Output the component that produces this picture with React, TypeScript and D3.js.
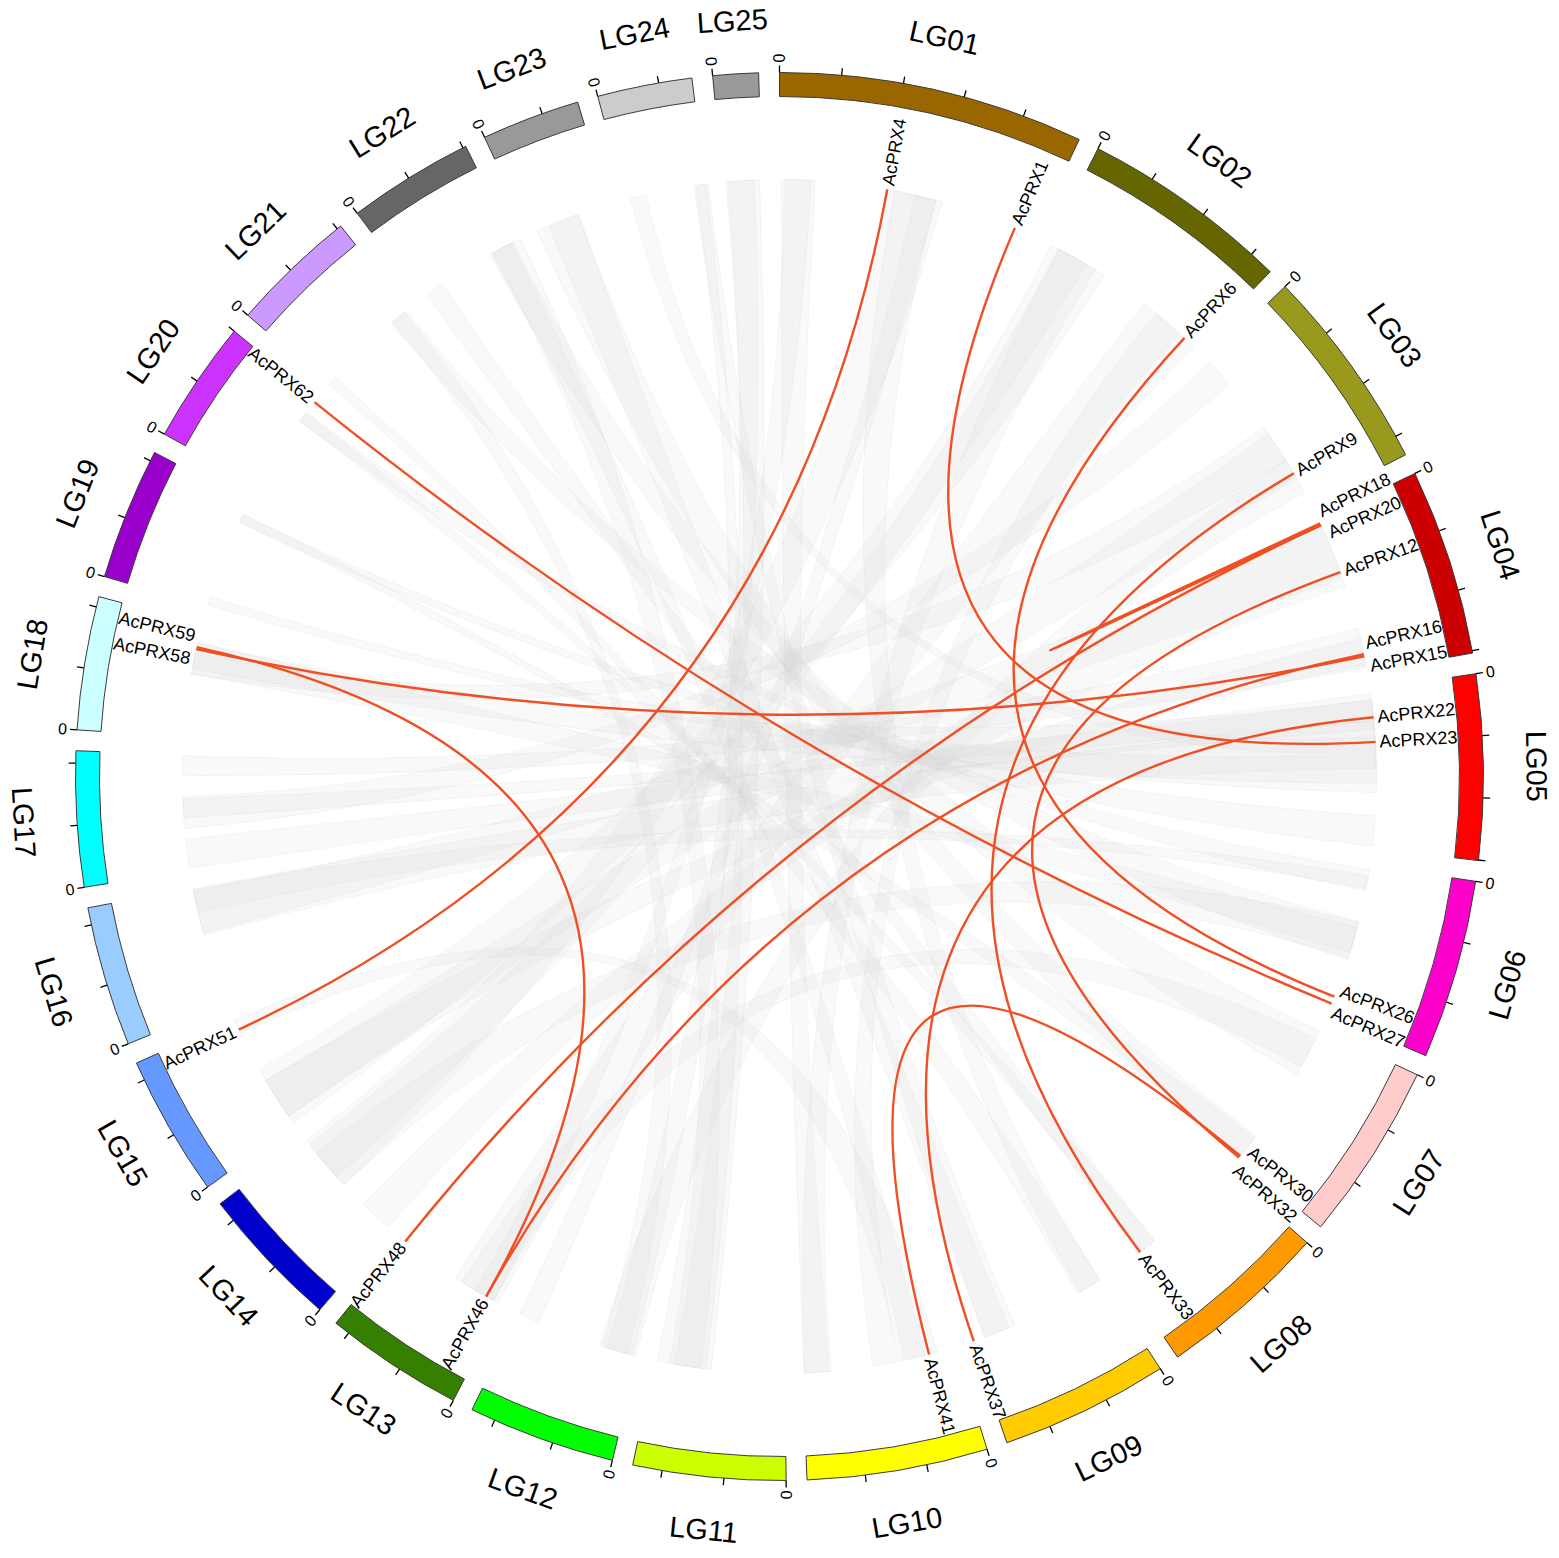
import React from 'react';
import * as d3 from 'd3';

// ---------- data ----------
const chromNames = ['LG01','LG02','LG03','LG04','LG05','LG06','LG07','LG08','LG09','LG10','LG11','LG12','LG13','LG14','LG15','LG16','LG17','LG18','LG19','LG20','LG21','LG22','LG23','LG24','LG25'];
const chromLengths = [24.85, 17.06, 16.67, 15.19, 15.05, 14.6, 14.5, 13.9, 13.7, 14.7, 12.4, 12.0, 11.3, 11.7, 11.5, 11.4, 11.0, 10.85, 10.75, 10.0, 10.35, 10.25, 8.0, 7.7, 3.7];
const chromColors = ['#996600','#666600','#99991e','#cc0000','#ff0000','#ff00cc','#ffcccc','#ff9900','#ffcc00','#ffff00','#ccff00','#00ff00','#358000','#0000cc','#6699ff','#99ccff','#00ffff','#ccffff','#9900cc','#cc33ff','#cc99ff','#666666','#999999','#cccccc','#999999'];
const tickStep = 5;

const geneNames = ['AcPRX4','AcPRX1','AcPRX6','AcPRX9','AcPRX18','AcPRX20','AcPRX12','AcPRX16','AcPRX15','AcPRX22','AcPRX23','AcPRX26','AcPRX27','AcPRX30','AcPRX32','AcPRX33','AcPRX37','AcPRX41','AcPRX46','AcPRX48','AcPRX51','AcPRX58','AcPRX59','AcPRX62'];
const geneChrom = [1,1,2,3,4,4,4,4,4,5,5,6,6,7,7,8,9,10,13,13,15,18,18,20];
const genePos = [10.26,22.9,15.6,13.4,0.4,0.6,5.4,13.5,13.7,2.66,5.0,12.9,13.6,14.2,14.4,11.2,13.56,2.6,1.8,11.07,10.45,8.4,8.6,9.6];

const redLinks: [string, string][] = [
  ['AcPRX4','AcPRX51'],
  ['AcPRX1','AcPRX23'],
  ['AcPRX6','AcPRX26'],
  ['AcPRX9','AcPRX33'],
  ['AcPRX18','AcPRX20'],
  ['AcPRX20','AcPRX48'],
  ['AcPRX12','AcPRX32'],
  ['AcPRX15','AcPRX58'],
  ['AcPRX59','AcPRX46'],
  ['AcPRX16','AcPRX46'],
  ['AcPRX22','AcPRX37'],
  ['AcPRX30','AcPRX41'],
  ['AcPRX62','AcPRX27'],
];

// grey synteny blocks: [chrA, startA, endA, chrB, startB, endB] (Mb)
const greyLinks: number[][] = [
  [25,0.3,3.5,11,7.0,10.5],
  [1,0.2,3.4,10,12.2,14.6],
  [1,10.6,15.6,14,6.0,11.5],
  [24,0.5,2.0,5,4.5,6.0],
  [24,6.6,8.0,9,9.4,12.4],
  [2,0.2,6.0,15,0.2,6.2],
  [2,10.6,16.8,13,0.5,5.2],
  [3,0.2,3.0,17,4.0,7.0],
  [3,8.2,12.0,18,6.0,8.0],
  [4,0.6,6.8,14,0.2,3.4],
  [4,11.0,14.8,17,9.0,10.9],
  [5,0.4,3.8,17,0.2,3.0],
  [5,6.2,9.8,19,0.2,1.0],
  [5,12.0,14.9,19,8.6,9.4],
  [6,0.4,2.4,20,7.3,8.4],
  [6,5.4,9.2,21,8.3,10.2],
  [7,0.2,4.8,22,7.7,10.2],
  [7,11.8,14.4,23,0.8,5.0],
  [8,9.4,11.4,22,0.6,2.4],
  [9,0.2,2.7,21,0.1,1.0],
  [10,1.8,5.4,15,10.0,11.4],
  [10,5.6,8.0,2,12.0,15.0],
  [12,0.2,3.8,3,12.0,15.5],
  [12,9.9,11.9,1,13.0,15.0],
  [16,6.8,11.3,5,3.0,7.5],
  [18,6.0,9.0,6,6.0,8.5],
  [22,8.0,10.0,10,3.0,5.0],
  [23,2.0,5.0,9,10.0,12.5],
  [14,7.0,11.0,2,1.0,4.0],
  [15,1.0,5.0,4,12.0,14.5],
  [11,7.5,12.2,24,6.8,7.8],
  [13,1.0,4.5,7,1.0,4.0],
  [16,9.0,11.2,6,1.0,2.2],
  [17,5.0,6.8,5,1.0,3.0],
  [19,8.6,9.4,7,12.0,14.0],
  [20,7.3,8.3,8,9.5,11.0],
  [21,8.5,10.0,12,1.0,3.5],
  [22,8.0,11.0,11,8.0,11.0],
  [25,0.5,3.0,12,0.5,3.0],
  [1,0.5,3.0,13,1.0,3.0],
  [1,11.0,15.0,9,0.3,2.5],
  [2,1.0,5.0,10,12.0,14.5],
  [3,9.0,14.0,15,1.0,5.0],
  [4,1.0,6.0,16,7.0,11.0],
  [5,1.0,9.0,18,6.5,9.0],
  [6,5.5,9.0,14,6.0,10.0],
];

// ---------- layout ----------
const W = 1559, H = 1558;
const cx = 779.5, cy = 776.5;
const rIn = 680, rOut = 704, rLink = 597;
const gap = 1.7 * Math.PI / 180;
const total = d3.sum(chromLengths);
const k = (2 * Math.PI - chromLengths.length * gap) / total;
const chromStart: number[] = [];
{
  let a = 0;
  chromLengths.forEach((l) => { chromStart.push(a); a += l * k + gap; });
}
const scales = chromLengths.map((l, i) =>
  d3.scaleLinear().domain([0, l]).range([chromStart[i], chromStart[i] + l * k]));
const angleOf = (chr1: number, pos: number) => scales[chr1 - 1](pos);
const pt = (a: number, r: number): [number, number] => [r * Math.sin(a), -r * Math.cos(a)];
const toDeg = (a: number) => ((a * 180 / Math.PI) % 360 + 360) % 360;

function radialText(a: number, r: number) {
  const deg = toDeg(a);
  const [x, y] = pt(a, r);
  if (deg < 180) return { x, y, rot: deg - 90, anchor: 'start' };
  return { x, y, rot: deg + 90, anchor: 'end' };
}
function tangentText(a: number, r: number) {
  const deg = toDeg(a);
  const [x, y] = pt(a, r);
  const rot = deg > 90 && deg < 270 ? deg + 180 : deg;
  return { x, y, rot };
}

const geneAngles = geneNames.map((_, i) => angleOf(geneChrom[i], genePos[i]));
const geneIndex = new Map(geneNames.map((g, i) => [g, i]));
const labelAngles = geneAngles.slice();
{
  const order = d3.range(geneNames.length).sort((a, b) => geneAngles[a] - geneAngles[b]);
  const minSep = 2.2 * Math.PI / 180;
  for (let it = 0; it < 100; it++) {
    for (let j = 1; j < order.length; j++) {
      const a = order[j - 1], b = order[j];
      const d = labelAngles[b] - labelAngles[a];
      if (d < minSep) { const s = (minSep - d) / 2; labelAngles[a] -= s; labelAngles[b] += s; }
    }
  }
}

const arcGen = d3.arc<any>();
const ribbonGen = (d3.ribbon() as any).radius(rLink);

export default function App() {
  const font = "'Liberation Sans', Arial, Helvetica, sans-serif";
  return (
    <svg width={W} height={H} style={{ position: 'absolute', left: 0, top: 0, background: '#fff' }} fontFamily={font}>
      <rect width={W} height={H} fill="#ffffff" />
      <g transform={`translate(${cx},${cy})`}>
        {/* grey synteny ribbons */}
        <g>
          {greyLinks.map((l, i) => {
            const s = { startAngle: angleOf(l[0], l[1]), endAngle: angleOf(l[0], l[2]) };
            const t = { startAngle: angleOf(l[3], l[4]), endAngle: angleOf(l[3], l[5]) };
            return <path key={i} d={ribbonGen({ source: s, target: t })} fill="#d2d2d2" fillOpacity={0.13} stroke="#d6d6d6" strokeOpacity={0.35} strokeWidth={0.6} />;
          })}
        </g>
        {/* red links */}
        <g>
          {redLinks.map(([a, b], i) => {
            const ia = geneIndex.get(a)!, ib = geneIndex.get(b)!;
            const p0 = pt(geneAngles[ia], rLink), p1 = pt(geneAngles[ib], rLink);
            const p = d3.path();
            p.moveTo(p0[0], p0[1]);
            p.quadraticCurveTo(0, 0, p1[0], p1[1]);
            return <path key={i} d={p.toString()} fill="none" stroke="#f04e23" strokeWidth={2.4} />;
          })}
        </g>
        {/* chromosome bars */}
        <g>
          {chromLengths.map((l, i) => (
            <path key={i}
              d={arcGen({ innerRadius: rIn, outerRadius: rOut, startAngle: chromStart[i], endAngle: chromStart[i] + l * k }) as string}
              fill={chromColors[i]} stroke="#3a3a3a" strokeWidth={1} />
          ))}
        </g>
        {/* ticks */}
        <g>
          {chromLengths.map((l, i) => {
            const ticks = d3.range(0, l + 1e-6, tickStep);
            return (
              <g key={i}>
                {ticks.map((tv, j) => {
                  const a = scales[i](tv);
                  const [x0, y0] = pt(a, rOut);
                  const [x1, y1] = pt(a, rOut + 7);
                  return <line key={j} x1={x0} y1={y0} x2={x1} y2={y1} stroke="#000" strokeWidth={1.3} />;
                })}
                {(() => {
                  const t = radialText(scales[i](0), rOut + 10);
                  return <text x={t.x} y={t.y} transform={`rotate(${t.rot},${t.x},${t.y})`} textAnchor={t.anchor} dominantBaseline="central" fontSize={16} fill="#000">0</text>;
                })()}
              </g>
            );
          })}
        </g>
        {/* chromosome names */}
        <g>
          {chromNames.map((n, i) => {
            const a = chromStart[i] + chromLengths[i] * k / 2;
            const t = tangentText(a, 757);
            return <text key={n} x={t.x} y={t.y} transform={`rotate(${t.rot},${t.x},${t.y})`} textAnchor="middle" dominantBaseline="central" fontSize={29} fill="#000">{n}</text>;
          })}
        </g>
        {/* gene labels */}
        <g>
          {geneNames.map((g, i) => {
            const t = radialText(labelAngles[i], rLink + 4);
            return <text key={g} x={t.x} y={t.y} transform={`rotate(${t.rot},${t.x},${t.y})`} textAnchor={t.anchor} dominantBaseline="central" fontSize={18} fill="#000">{g}</text>;
          })}
        </g>
      </g>
    </svg>
  );
}
